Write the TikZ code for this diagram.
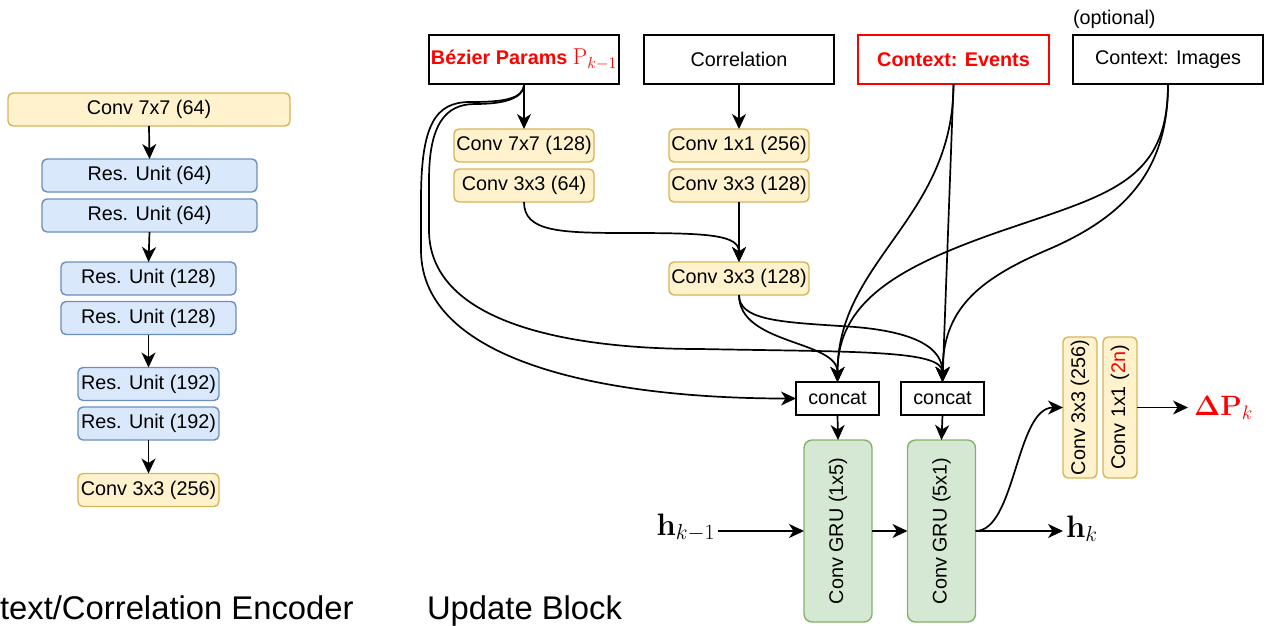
\documentclass[tikz,border=0pt]{standalone}
\usepackage{fix-cm}
\usepackage[no-math]{fontspec}
\setmainfont{Liberation Sans}
\usepackage{amsmath}
\usetikzlibrary{arrows.meta}

\definecolor{ylwF}{HTML}{FFF2CC}
\definecolor{ylwD}{HTML}{D6B656}
\definecolor{bluF}{HTML}{DAE8FC}
\definecolor{bluD}{HTML}{6C8EBF}
\definecolor{grnF}{HTML}{D5E8D4}
\definecolor{grnD}{HTML}{82B366}
\definecolor{hot}{HTML}{FF0000}

\begin{document}
\begin{tikzpicture}[x=1pt,y=-1pt,
  font=\fontsize{19.8}{23}\selectfont,
  every node/.style={inner sep=0pt, outer sep=0pt},
  ybox/.style={draw=ylwD, fill=ylwF, line width=1.4pt, rounded corners=5pt, minimum height=33pt},
  bbox/.style={draw=bluD, fill=bluF, line width=1.4pt, rounded corners=5pt, minimum height=33pt},
  gbox/.style={draw=grnD, fill=grnF, line width=1.4pt, rounded corners=8pt, minimum width=68pt, minimum height=182pt},
  tbox/.style={draw=black, line width=1.8pt, minimum width=190pt, minimum height=49pt},
  cbox/.style={draw=black, line width=1.6pt, minimum width=83pt, minimum height=33pt},
  arr/.style={line width=1.7pt, -{Stealth[length=15pt,width=14pt,inset=4.5pt]}},
  mlab/.style={font=\fontsize{31}{31}\selectfont},
  title/.style={anchor=base west, font=\fontsize{32.8}{34}\selectfont}
]
\useasboundingbox (0,0) rectangle (1266,625);

% ---------- encoder column ----------
\node[ybox, minimum width=282pt] (e0) at (149,109.5) {Conv 7x7 (64)};
\node[bbox, minimum width=215pt] (e1) at (149.5,175.5) {Res. Unit (64)};
\node[bbox, minimum width=215pt] (e2) at (149.5,215.5) {Res. Unit (64)};
\node[bbox, minimum width=175pt] (e3) at (148.5,278.5) {Res. Unit (128)};
\node[bbox, minimum width=175pt] (e4) at (148.5,318) {Res. Unit (128)};
\node[bbox, minimum width=141pt] (e5) at (148.5,384) {Res. Unit (192)};
\node[bbox, minimum width=141pt] (e6) at (148.5,423.5) {Res. Unit (192)};
\node[ybox, minimum width=141pt] (e7) at (148.5,490) {Conv 3x3 (256)};

\draw[arr] (e0.south) -- (e1.north);
\draw[arr] (e2.south) -- (e3.north);
\draw[arr] (e4.south) -- (e5.north);
\draw[arr] (e6.south) -- (e7.north);

% ---------- titles ----------
\node[title] (tenc) at (0,619) {text/Correlation Encoder};
\node[title] (tupd) at (427,619) {Update Block};

% ---------- update block: inputs ----------
\node[tbox] (bez) at (524,59.5) {\bfseries\color{hot}Bézier Params {\fontsize{23}{23}\selectfont$\mathrm{P}_{k-1}$}};
\node[tbox] (cor) at (739,59.5) {Correlation};
\node[tbox, draw=hot, line width=1.6pt, minimum width=191pt] (ev) at (953.5,59.5) {\bfseries\color{hot}Context: Events};
\node[tbox] (img) at (1168,59.5) {Context: Images};
\node[anchor=base west] (opt) at (1073,24) {(optional)};

% ---------- feature convolutions ----------
\node[ybox, minimum width=140pt] (b1) at (524,145.5) {Conv 7x7 (128)};
\node[ybox, minimum width=140pt] (b2) at (524,185.5) {Conv 3x3 (64)};
\node[ybox, minimum width=140pt] (k1) at (739,145.5) {Conv 1x1 (256)};
\node[ybox, minimum width=140pt] (k2) at (739,185.5) {Conv 3x3 (128)};
\node[ybox, minimum width=140pt] (k3) at (739,278.5) {Conv 3x3 (128)};

% ---------- concat + GRUs ----------
\node[cbox] (cc1) at (837.5,398.5) {concat};
\node[cbox] (cc2) at (942.5,398.5) {concat};
\node[gbox] (g1) at (838,531) {};
\node[rotate=90] (g1t) at (g1) {Conv GRU (1x5)};
\node[gbox] (g2) at (941.5,531) {};
\node[rotate=90] (g2t) at (g2) {Conv GRU (5x1)};

% ---------- output head ----------
\node[ybox, minimum width=34pt, minimum height=141pt] (h1) at (1080,407.5) {};
\node[rotate=90] (h1t) at (h1) {Conv 3x3 (256)};
\node[ybox, minimum width=34pt, minimum height=141pt] (h2) at (1120,407.5) {};
\node[rotate=90] (h2t) at (h2) {Conv 1x1 ({\color{hot}2n})};

% ---------- math labels ----------
\node[mlab, anchor=base east, inner xsep=3pt] (hin) at (718,535) {$\mathbf{h}_{k-1}$};
\node[mlab, anchor=base west, inner xsep=3pt] (hout) at (1063,537) {$\mathbf{h}_k$};
\node[anchor=base west, inner xsep=6pt, font=\fontsize{28}{28}\selectfont, text=hot] (dp) at (1188,415) {$\mathbf{\Delta P}_k$};

% ---------- connectors ----------
\draw[arr] (bez.south) -- (b1.north);
\draw[arr] (cor.south) -- (k1.north);
\draw[arr] (k2.south) -- (k3.north);
\draw[arr] (b2.south) .. controls +(0,30) and +(-70,0) .. (630,233)
                      .. controls +(80,0) and +(0,-27) .. (k3.north);

% Bezier parameters routed around the left
\draw[arr] (bez.south) .. controls +(0,16) and +(30,0) .. (470,102)
                       .. controls +(-35,0) and +(0,-75) .. (421,200) -- (421,250)
                       .. controls +(0,110) and +(-196,0) .. (cc1.west);
\draw[arr] (bez.south) .. controls +(0,16) and +(25,0) .. (475,104)
                       .. controls +(-30,0) and +(0,-55) .. (429,180) -- (429,230)
                       .. controls +(0,90) and +(-140,0) .. (700,349)
                       .. controls +(160,3) and +(0,-32) .. (cc2.north);

% correlation features
\draw[arr] (k3.south) .. controls +(0,50) and +(0,-42) .. (cc1.north);
\draw[arr] (k3.south) .. controls +(0,25) and +(-60,-4) .. (840,326)
                      .. controls +(80,4) and +(0,-32) .. (cc2.north);

% context features
\draw[arr] (ev.south) -- (cc2.north);
\draw[arr] (ev.south) .. controls +(0,135) and +(0,-122) .. (cc1.north);
\draw[arr] (img.south) .. controls +(0,95) and +(100,-34) .. (1013,227)
                       .. controls +(-113,38) and +(0,-82) .. (cc1.north);
\draw[arr] (img.south) .. controls +(0,85) and +(80,-34) .. (1047,250)
                       .. controls +(-70,30) and +(0,-72) .. (cc2.north);

% recurrent path
\draw[arr] (cc1.south) -- (g1.north);
\draw[arr] (cc2.south) -- (g2.north);
\draw[arr] (g1.west -| hin.east) -- (g1.west);
\draw[arr] (g1.east) -- (g2.west);
\draw[arr] (g2.east) -- (g2.east -| hout.west);
\draw[arr] (g2.east) .. controls +(40,0) and +(-47,0) .. (h1.west);
\draw[arr] (h2.east) -- (h2.east -| dp.west);
\end{tikzpicture}
\end{document}
